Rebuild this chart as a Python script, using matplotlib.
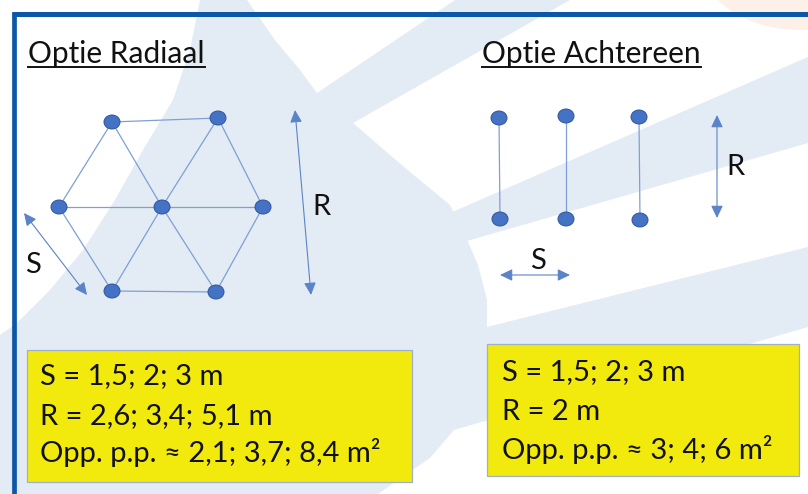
import matplotlib
matplotlib.use("Agg")
import matplotlib.pyplot as plt
from matplotlib.patches import Polygon, Ellipse, Rectangle, FancyArrowPatch, ArrowStyle

plt.rcParams["font.family"] = ["Lato", "DejaVu Sans"]

# canvas in pixel units (y grows downward)
W, H = 808, 494

# --- diagram data --------------------------------------------------------
titles = ["Optie Radiaal", "Optie Achtereen"]
title_pos = [(28, 63), (482, 63)]

radial_nodes = [(112, 122), (218, 118), (59, 207), (162, 207), (263, 207), (112, 291), (216, 292)]
radial_edges = [(0, 1), (0, 2), (0, 3), (1, 3), (1, 4), (2, 3), (3, 4), (2, 5), (3, 5), (3, 6), (4, 6), (5, 6)]

row_top = [(499, 118), (566, 116), (639, 117)]
row_bottom = [(500, 219), (566, 219), (640, 220)]

# double arrows: (start, end, label, label position)
arrows = [
    ((295, 110), (311, 295), "R", (321, 215)),
    ((24, 213), (87, 295), "S", (33, 273)),
    ((717, 115), (717, 218), "R", (735, 175)),
    ((500, 275), (570, 275), "S", (538, 269)),
]

box_left = (27, 350, 412, 482)
box_right = (487, 344, 799, 476)
lines_left = ["S = 1,5; 2; 3 m", "R = 2,6; 3,4; 5,1 m", "Opp. p.p. ≈ 2,1; 3,7; 8,4 m²"]
lines_right = ["S = 1,5; 2; 3 m", "R = 2 m", "Opp. p.p. ≈ 3; 4; 6 m²"]
baselines_left = [384, 424, 462]
baselines_right = [380, 420, 459]

# faint watermark shapes behind the drawing (a curved blade plus fanning rays)
wm_main = [(200, 0), (190, 50), (173, 100), (143, 150), (115, 200), (83, 250), (50, 290),
           (17, 323), (0, 335), (0, 494), (378, 494), (430, 458), (454, 430), (487, 330),
           (487, 300), (478, 265), (465, 235), (450, 205), (404, 167), (353, 123),
           (404, 94), (570, 0), (455, 0), (317, 93), (300, 70), (275, 40), (247, 0)]
wm_band2 = [(450, 213), (808, 57), (808, 143), (460, 243)]
wm_band3 = [(487, 327), (808, 247), (808, 327), (454, 430)]

WM = "#e3ebf5"
NODE = "#4472c4"
NODE_EDGE = "#2f5597"
LINK = "#7f9fd5"
ARROW = "#5b84c8"

fig = plt.figure(figsize=(W / 100, H / 100), dpi=100)
ax = fig.add_axes([0, 0, 1, 1])
ax.set_xlim(0, W)
ax.set_ylim(H, 0)
ax.axis("off")

for shape in (wm_main, wm_band2, wm_band3):
    ax.add_patch(Polygon(shape, closed=True, facecolor=WM, edgecolor="none", zorder=0))
ax.add_patch(Ellipse((800, -40), 200, 140, facecolor="#fdf0e8", edgecolor="none", zorder=0))

# frame
ax.plot([12, W], [14, 14], color="#0d57a7", lw=3.6, solid_capstyle="butt", zorder=1)
ax.plot([14, 14], [12, H], color="#0d57a7", lw=3.4, solid_capstyle="butt", zorder=1)

# titles with underline
fig.canvas.draw()
renderer = fig.canvas.get_renderer()
inv = ax.transData.inverted()
for title, (tx, ty) in zip(titles, title_pos):
    t = ax.text(tx, ty, title, fontsize=21.5, va="baseline", ha="left", color="#111111", zorder=5)
    bb = t.get_window_extent(renderer)
    x0 = inv.transform((bb.x0, 0))[0]
    x1 = inv.transform((bb.x1, 0))[0]
    ax.plot([x0, x1], [ty + 4.5, ty + 4.5], color="#111111", lw=1.4, zorder=5)

# radial layout
for a, b in radial_edges:
    (x0, y0), (x1, y1) = radial_nodes[a], radial_nodes[b]
    ax.plot([x0, x1], [y0, y1], color=LINK, lw=0.9, zorder=2)
for x, y in radial_nodes:
    ax.add_patch(Ellipse((x, y), 16, 14, facecolor=NODE, edgecolor=NODE_EDGE, lw=0.7, zorder=3))

# rows layout
for (x0, y0), (x1, y1) in zip(row_top, row_bottom):
    ax.plot([x0, x1], [y0, y1], color=LINK, lw=0.9, zorder=2)
for x, y in row_top + row_bottom:
    ax.add_patch(Ellipse((x, y), 16, 14, facecolor=NODE, edgecolor=NODE_EDGE, lw=0.7, zorder=3))

style = ArrowStyle("<|-|>", head_length=0.75, head_width=0.36)
for start, end, label, (lx, ly) in arrows:
    ax.add_patch(FancyArrowPatch(start, end, arrowstyle=style, mutation_scale=10,
                                 color=ARROW, lw=0.8, shrinkA=0, shrinkB=0, zorder=3))
    ax.text(lx, ly, label, fontsize=21, ha="center", va="baseline", color="#111111", zorder=5)

# yellow info boxes
for (x0, y0, x1, y1), lines, bases, tx in ((box_left, lines_left, baselines_left, 40),
                                             (box_right, lines_right, baselines_right, 502)):
    ax.add_patch(Rectangle((x0, y0), x1 - x0, y1 - y0, facecolor="#f2ea0c",
                           edgecolor="#9fb0c8", lw=0.9, zorder=4))
    for line, by in zip(lines, bases):
        ax.text(tx, by, line, fontsize=21, ha="left", va="baseline", color="#111111", zorder=5)

fig.savefig("out.png", dpi=100)
